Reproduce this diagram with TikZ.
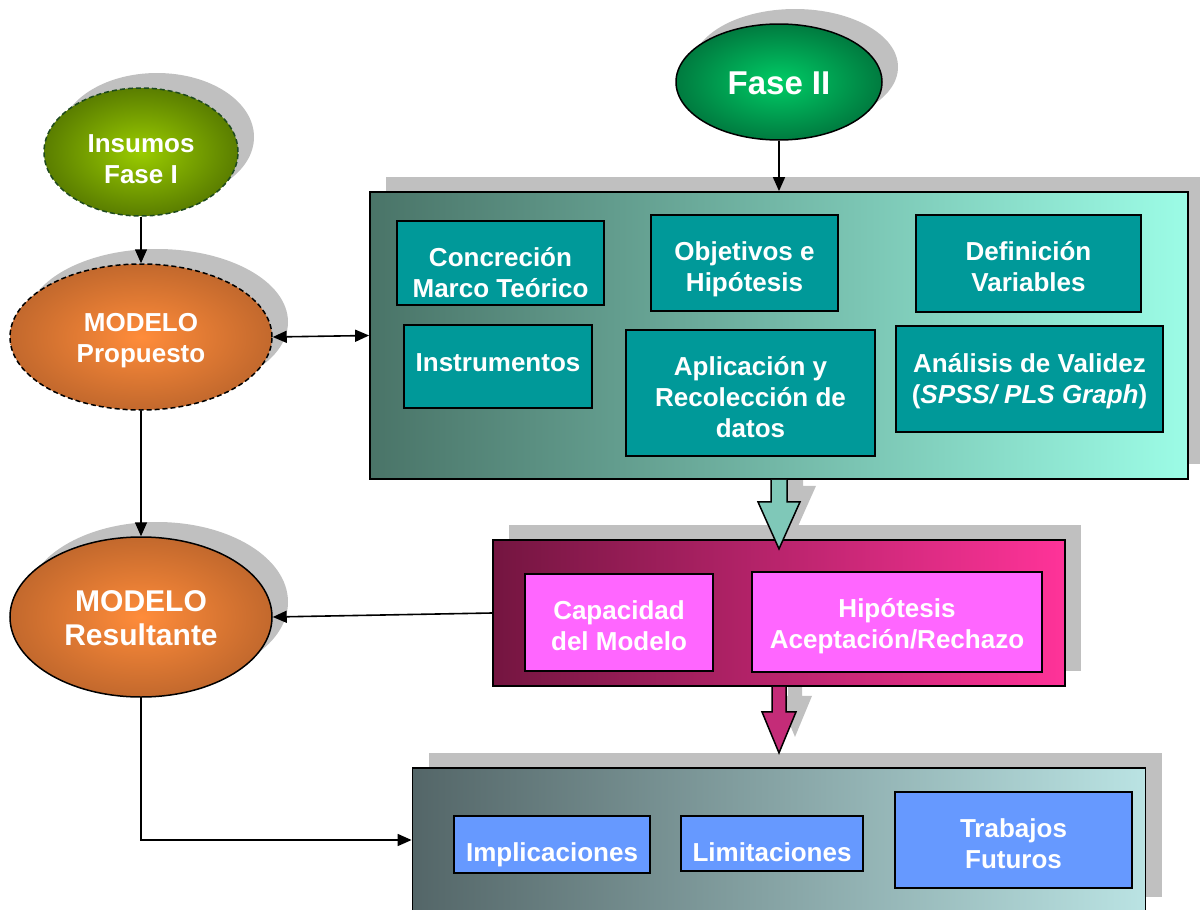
\documentclass[tikz,border=0pt]{standalone}
\usepackage{fontspec}
\setmainfont{Liberation Sans}
\usetikzlibrary{shapes.geometric,arrows.meta,shadows,backgrounds}
\definecolor{shadowgray}{HTML}{C0C0C0}
\definecolor{insin}{HTML}{9ACC00}
\definecolor{insout}{HTML}{344F00}
\definecolor{insdash}{HTML}{1E4A1E}
\definecolor{fasein}{HTML}{00CC66}
\definecolor{faseout}{HTML}{004A28}
\definecolor{orin}{HTML}{FF8C3A}
\definecolor{orout}{HTML}{A35626}
\definecolor{bxal}{HTML}{4A7468}
\definecolor{bxam}{HTML}{86CFBF}
\definecolor{bxar}{HTML}{9CFCE6}
\definecolor{bxbl}{HTML}{741540}
\definecolor{bxbm}{HTML}{BA266A}
\definecolor{bxbr}{HTML}{FF3399}
\definecolor{bxcl}{HTML}{546668}
\definecolor{bxcm}{HTML}{90AAAA}
\definecolor{bxcr}{HTML}{BAE3E3}
\definecolor{innteal}{HTML}{009999}
\definecolor{innpink}{HTML}{FF66FF}
\definecolor{innblue}{HTML}{6699FF}
\definecolor{arrteal}{HTML}{7FC8B8}
\definecolor{arrmag}{HTML}{C42C78}
\pgfdeclareradialshading{greenrad}{\pgfpointorigin}{color(0bp)=(insin); color(40bp)=(insout); color(50bp)=(insout)}
\pgfdeclareradialshading{faserad}{\pgfpointorigin}{color(0bp)=(fasein); color(40bp)=(faseout); color(50bp)=(faseout)}
\pgfdeclareradialshading{orangerad}{\pgfpointorigin}{color(0bp)=(orin); color(38bp)=(orout); color(50bp)=(orout)}
\begin{document}
\begin{tikzpicture}[x=1pt,y=-1pt,
  conn/.style={line width=1.6pt, -{Triangle[length=14pt,width=12pt]}},
  dconn/.style={line width=1.6pt, {Triangle[length=14pt,width=12pt]}-{Triangle[length=14pt,width=12pt]}},
  drop/.style={general shadow={fill=shadowgray, shadow xshift=16pt, shadow yshift=15pt}},
  ell/.style={ellipse, inner sep=0pt, text=white, align=center, line width=1.5pt,
    font=\bfseries\fontsize{26pt}{31pt}\selectfont},
  panel/.style={rectangle, draw=black, line width=1.8pt, inner sep=0pt, drop},
  inbox/.style={rectangle, draw=black, line width=1.8pt, inner sep=0pt, text=white, align=center,
    font=\bfseries\fontsize{26pt}{31pt}\selectfont},
  tb/.style 2 args={text height=#1pt, text depth=#2pt},
]
\useasboundingbox (0,0) rectangle (1200,910);
\clip (0,0) rectangle (1200,910);

% ellipses
\node[ell, drop, draw=insdash, dash pattern=on 5pt off 3pt, shading=greenrad,
  minimum width=194pt, minimum height=128pt, tb={62}{0}] (ins) at (141,152) {Insumos\\Fase I};
\node[ell, drop, draw=black, dash pattern=on 5pt off 3pt, shading=orangerad,
  minimum width=262pt, minimum height=146pt, tb={50}{0}] (prop) at (141,337) {MODELO\\Propuesto};
\node[ell, drop, draw=black, shading=orangerad, font=\bfseries\fontsize{30pt}{34pt}\selectfont,
  minimum width=262pt, minimum height=160pt, tb={56}{0}] (result) at (141,617) {MODELO\\Resultante};
\node[ell, drop, draw=black, shading=faserad, font=\bfseries\fontsize{33pt}{38pt}\selectfont,
  minimum width=206pt, minimum height=116pt, tb={24}{0}] (fase) at (779,82) {Fase II};

% panels
\node[panel, left color=bxal, middle color=bxam, right color=bxar,
  minimum width=818pt, minimum height=287pt] (box1) at (779,335.5) {};
\node[panel, left color=bxbl, middle color=bxbm, right color=bxbr,
  minimum width=572pt, minimum height=146pt] (box2) at (779,613) {};
\node[panel, left color=bxcl, middle color=bxcm, right color=bxcr,
  minimum width=733pt, minimum height=144pt] (box3) at (779,840) {};

% inner boxes of panel 1
\node[inbox, fill=innteal, minimum width=207pt, minimum height=84pt, tb={68}{0}] (conc) at (500.5,263) {Concreción\\Marco Teórico};
\node[inbox, fill=innteal, minimum width=187pt, minimum height=96pt, tb={56}{0}] (obj) at (744.5,263) {Objetivos e\\Hipótesis};
\node[inbox, fill=innteal, minimum width=225pt, minimum height=97pt, tb={55}{0}] (defv) at (1028.5,263.5) {Definición\\Variables};
\node[inbox, fill=innteal, minimum width=188pt, minimum height=83pt, tb={9}{0}] (inst) at (498,366.5) {Instrumentos};
\node[inbox, fill=innteal, minimum width=249pt, minimum height=126pt, tb={88}{0}] (apl) at (750.5,393) {Aplicación y\\Recolección de\\datos};
\node[inbox, fill=innteal, minimum width=267pt, minimum height=106pt, tb={48}{0}] (anal) at (1029.5,379) {Análisis de Validez\\(\textit{SPSS/ PLS Graph})};

% inner boxes of panel 2
\node[inbox, fill=innpink, minimum width=188pt, minimum height=97pt, tb={55}{0}] (cap) at (619,622.5) {Capacidad\\del Modelo};
\node[inbox, fill=innpink, minimum width=290pt, minimum height=100pt, tb={52}{0}] (hip) at (897,622) {Hipótesis\\Aceptación/Rechazo};

% inner boxes of panel 3
\node[inbox, fill=innblue, minimum width=196pt, minimum height=57pt, tb={33}{0}] (impl) at (552,844.5) {Implicaciones};
\node[inbox, fill=innblue, minimum width=182pt, minimum height=55pt, tb={35}{0}] (lim) at (772,843.5) {Limitaciones};
\node[inbox, fill=innblue, minimum width=237pt, minimum height=96pt, tb={56}{0}] (trab) at (1013.5,840) {Trabajos\\Futuros};

% block arrows with shadows
\begin{scope}[on background layer]
  \fill[shadowgray, shift={(box1.south)}, shift={(16,-16)}]
    (-8,0) -- (-8,22) -- (-21,22) -- (0,69) -- (21,22) -- (8,22) -- (8,0) -- cycle;
  \fill[shadowgray, shift={(box2.south)}, shift={(16,-16)}]
    (-7,0) -- (-7,25) -- (-17,25) -- (0,66) -- (17,25) -- (7,25) -- (7,0) -- cycle;
\end{scope}
\draw[fill=arrteal, line width=1.5pt, line join=miter, shift={(box1.south)}]
  (-8,0) -- (-8,22) -- (-21,22) -- (0,69) -- (21,22) -- (8,22) -- (8,0);
\draw[fill=arrmag, line width=1.5pt, line join=miter, shift={(box2.south)}]
  (-7,0) -- (-7,25) -- (-17,25) -- (0,66) -- (17,25) -- (7,25) -- (7,0);

% connectors
\draw[conn] (ins) -- (prop);
\draw[conn] (fase) -- (box1);
\draw[dconn] (prop.east) -- (box1.west);
\draw[conn] (prop) -- (result);
\draw[conn] (box2.west) -- (result.east);
\draw[conn] (result.south) |- (box3.west);
\end{tikzpicture}
\end{document}
